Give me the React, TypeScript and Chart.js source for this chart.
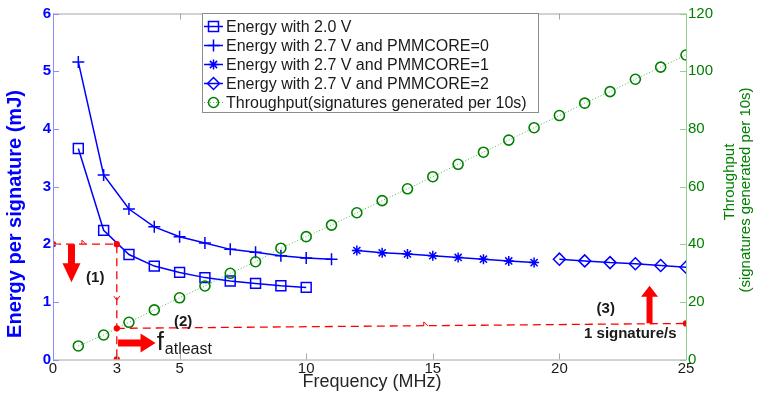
import React, { useEffect, useRef } from 'react';
import { Chart, registerables } from 'chart.js';

Chart.register(...registerables);

// ---------- data ----------
const freq20 = [1, 2, 3, 4, 5, 6, 7, 8, 9, 10];
const energy20 = [3.66, 2.24, 1.82, 1.62, 1.51, 1.42, 1.36, 1.32, 1.28, 1.25];

const freqP0 = [1, 2, 3, 4, 5, 6, 7, 8, 9, 10, 11];
const energyP0 = [5.16, 3.2, 2.61, 2.3, 2.13, 2.02, 1.91, 1.86, 1.8, 1.76, 1.74];

const freqP1 = [12, 13, 14, 15, 16, 17, 18, 19];
const energyP1 = [1.89, 1.85, 1.83, 1.8, 1.77, 1.74, 1.71, 1.68];

const freqP2 = [20, 21, 22, 23, 24, 25];
const energyP2 = [1.74, 1.71, 1.68, 1.66, 1.63, 1.6];

const freqTp = [1, 2, 3, 4, 5, 6, 7, 8, 9, 10, 11, 12, 13, 14, 15, 16, 17, 18, 19, 20, 21, 22, 23, 24, 25];
const throughput = [4.7, 8.5, 12.9, 17.2, 21.4, 25.5, 29.9, 33.9, 38.6, 42.6, 46.6, 50.9, 55.1, 59.2, 63.4, 67.7, 71.9, 76.1, 80.4, 84.6, 88.9, 92.9, 97.2, 101.4, 105.6];

const xTickValues = [0, 2.52, 5, 10, 15, 20, 25];
const xTickLabels = ['0', '3', '5', '10', '15', '20', '25'];
const yTickValues = [0, 1, 2, 3, 4, 5, 6];
const y2TickValues = [0, 20, 40, 60, 80, 100, 120];

// annotation guide lines
const limitX = [0, 2.52, 2.52];
const limitY = [2, 2, 0];
const rateX = [2.52, 25];
const rateY = [10.8, 12.5];

const legendLabels = [
  'Energy with 2.0 V',
  'Energy with 2.7 V and PMMCORE=0',
  'Energy with 2.7 V and PMMCORE=1',
  'Energy with 2.7 V and PMMCORE=2',
  'Throughput(signatures generated per 10s)',
];

const FONT = '"Liberation Sans", Arial, Helvetica, sans-serif';
const BLUE = '#0000ff';
const GREEN = '#008000';
const RED = '#ff0000';

const zip = (xs: number[], ys: number[]) => xs.map((x, i) => ({ x, y: ys[i] }));

function drawMarker(ctx: CanvasRenderingContext2D, kind: string, x: number, y: number, color: string) {
  ctx.save();
  ctx.strokeStyle = color;
  ctx.lineWidth = 1.5;
  ctx.beginPath();
  if (kind === 'rect') {
    ctx.rect(x - 5, y - 5, 10, 10);
  } else if (kind === 'cross') {
    ctx.moveTo(x - 6, y); ctx.lineTo(x + 6, y);
    ctx.moveTo(x, y - 6); ctx.lineTo(x, y + 6);
  } else if (kind === 'star') {
    ctx.moveTo(x - 5, y); ctx.lineTo(x + 5, y);
    ctx.moveTo(x, y - 5); ctx.lineTo(x, y + 5);
    ctx.moveTo(x - 3.6, y - 3.6); ctx.lineTo(x + 3.6, y + 3.6);
    ctx.moveTo(x - 3.6, y + 3.6); ctx.lineTo(x + 3.6, y - 3.6);
  } else if (kind === 'diamond') {
    ctx.moveTo(x, y - 6); ctx.lineTo(x + 6, y); ctx.lineTo(x, y + 6); ctx.lineTo(x - 6, y); ctx.closePath();
  } else if (kind === 'circle') {
    ctx.arc(x, y, 5, 0, Math.PI * 2);
  }
  ctx.stroke();
  ctx.restore();
}

function fillArrow(ctx: CanvasRenderingContext2D, x1: number, y1: number, x2: number, y2: number,
  shaftHalf: number, headHalf: number, headLen: number) {
  const dx = x2 - x1, dy = y2 - y1;
  const L = Math.hypot(dx, dy);
  const ux = dx / L, uy = dy / L, nx = -uy, ny = ux;
  const bx = x2 - ux * headLen, by = y2 - uy * headLen;
  ctx.beginPath();
  ctx.moveTo(x1 + nx * shaftHalf, y1 + ny * shaftHalf);
  ctx.lineTo(bx + nx * shaftHalf, by + ny * shaftHalf);
  ctx.lineTo(bx + nx * headHalf, by + ny * headHalf);
  ctx.lineTo(x2, y2);
  ctx.lineTo(bx - nx * headHalf, by - ny * headHalf);
  ctx.lineTo(bx - nx * shaftHalf, by - ny * shaftHalf);
  ctx.lineTo(x1 - nx * shaftHalf, y1 - ny * shaftHalf);
  ctx.closePath();
  ctx.fill();
}

function smallHead(ctx: CanvasRenderingContext2D, x: number, y: number, dir: 'right' | 'down') {
  ctx.beginPath();
  if (dir === 'right') {
    ctx.moveTo(x - 4, y - 4); ctx.lineTo(x, y); ctx.moveTo(x - 4, y - 4); ctx.lineTo(x - 4, y);
  } else {
    ctx.moveTo(x - 3, y - 4); ctx.lineTo(x, y); ctx.lineTo(x + 3, y - 4);
  }
  ctx.stroke();
}

const decorPlugin = {
  id: 'decor',
  afterDraw(chart: any) {
    const ctx: CanvasRenderingContext2D = chart.ctx;
    const { left, right, top, bottom } = chart.chartArea;
    const xs = chart.scales.x, ys = chart.scales.y, y2s = chart.scales.y2;
    ctx.save();

    // axes frame
    ctx.lineWidth = 1;
    ctx.strokeStyle = '#a6a6a6';
    ctx.beginPath();
    ctx.moveTo(left, top + 0.5); ctx.lineTo(right, top + 0.5);
    ctx.moveTo(left, bottom + 0.5); ctx.lineTo(right, bottom + 0.5);
    ctx.stroke();
    // x ticks (inward, bottom and top)
    ctx.beginPath();
    for (const v of xTickValues) {
      if (v === 0 || v === 25) continue;
      const px = Math.round(xs.getPixelForValue(v)) + 0.5;
      ctx.moveTo(px, bottom); ctx.lineTo(px, bottom - 6);
      if (v !== xTickValues[1]) { ctx.moveTo(px, top); ctx.lineTo(px, top + 6); }
    }
    ctx.stroke();
    // left axis
    ctx.strokeStyle = '#8c8cff';
    ctx.beginPath();
    ctx.moveTo(left + 0.5, top); ctx.lineTo(left + 0.5, bottom + 1);
    for (const v of yTickValues) {
      const py = Math.round(ys.getPixelForValue(v)) + 0.5;
      ctx.moveTo(left, py); ctx.lineTo(left + 6, py);
    }
    ctx.stroke();
    // right axis
    ctx.strokeStyle = '#8fcf8f';
    ctx.beginPath();
    ctx.moveTo(right + 0.5, top); ctx.lineTo(right + 0.5, bottom + 1);
    for (const v of y2TickValues) {
      const py = Math.round(y2s.getPixelForValue(v)) + 0.5;
      ctx.moveTo(right - 6, py); ctx.lineTo(right, py);
    }
    ctx.stroke();

    // red annotation arrows and marks
    ctx.fillStyle = RED;
    ctx.strokeStyle = RED;
    ctx.lineWidth = 1;
    fillArrow(ctx, xs.getPixelForValue(0.73), ys.getPixelForValue(2.0), xs.getPixelForValue(0.73), ys.getPixelForValue(1.34), 3.5, 9, 19);
    fillArrow(ctx, xs.getPixelForValue(2.57), ys.getPixelForValue(0.285), xs.getPixelForValue(4.05), ys.getPixelForValue(0.285), 3.5, 9.5, 15);
    fillArrow(ctx, xs.getPixelForValue(23.56), y2s.getPixelForValue(12.6), xs.getPixelForValue(23.56), y2s.getPixelForValue(25.6), 3, 8.5, 11);
    smallHead(ctx, xs.getPixelForValue(1.3), ys.getPixelForValue(2.0), 'right');
    smallHead(ctx, xs.getPixelForValue(2.52), ys.getPixelForValue(1.03), 'down');
    smallHead(ctx, xs.getPixelForValue(14.8), y2s.getPixelForValue(11.65), 'right');

    ctx.fillStyle = '#1a1a1a';
    ctx.textAlign = 'center';
    ctx.textBaseline = 'middle';
    ctx.font = `bold 15px ${FONT}`;
    ctx.fillText('(1)', xs.getPixelForValue(1.67), ys.getPixelForValue(1.42));
    ctx.fillText('(2)', xs.getPixelForValue(5.14), ys.getPixelForValue(0.65));
    ctx.fillText('(3)', xs.getPixelForValue(21.83), y2s.getPixelForValue(17.5));
    ctx.fillText('1 signature/s', xs.getPixelForValue(22.8), y2s.getPixelForValue(9.0));
    ctx.textAlign = 'left';
    ctx.textBaseline = 'alphabetic';
    ctx.font = `26px ${FONT}`;
    const fx = xs.getPixelForValue(4.1);
    const fy = ys.getPixelForValue(0.16);
    ctx.fillText('f', fx, fy);
    ctx.font = `16px ${FONT}`;
    ctx.fillText('atleast', fx + 8, fy + 4);

    // legend box
    const lx = 202.5, ly = 13.5, lw = 336, lh = 99;
    ctx.fillStyle = '#ffffff';
    ctx.fillRect(lx, ly, lw, lh);
    ctx.strokeStyle = '#8c8c8c';
    ctx.lineWidth = 1;
    ctx.strokeRect(lx, ly, lw, lh);
    const kinds = ['rect', 'cross', 'star', 'diamond', 'circle'];
    ctx.font = `16px ${FONT}`;
    ctx.textBaseline = 'middle';
    ctx.textAlign = 'left';
    for (let i = 0; i < 5; i++) {
      const yy = 26.5 + i * 19;
      const col = i === 4 ? GREEN : BLUE;
      ctx.save();
      ctx.strokeStyle = i === 4 ? '#4fb84f' : BLUE;
      ctx.lineWidth = i === 4 ? 1 : 1.5;
      if (i === 4) ctx.setLineDash([1, 2]);
      ctx.beginPath();
      ctx.moveTo(204, yy); ctx.lineTo(223, yy);
      ctx.stroke();
      ctx.restore();
      drawMarker(ctx, kinds[i], 213.5, yy, col);
      ctx.fillStyle = '#1a1a1a';
      ctx.fillText(legendLabels[i], 226, yy + 1);
    }

    // axis titles
    ctx.fillStyle = '#262626';
    ctx.textAlign = 'center';
    ctx.textBaseline = 'middle';
    ctx.font = `18px ${FONT}`;
    ctx.fillText('Frequency (MHz)', 372, 382);

    ctx.save();
    ctx.translate(15, 214);
    ctx.rotate(-Math.PI / 2);
    ctx.fillStyle = BLUE;
    ctx.font = `bold 20px ${FONT}`;
    ctx.fillText('Energy per signature (mJ)', 0, 0);
    ctx.restore();

    ctx.save();
    ctx.translate(730, 182);
    ctx.rotate(-Math.PI / 2);
    ctx.fillStyle = GREEN;
    ctx.font = `15px ${FONT}`;
    ctx.fillText('Throughput', 0, 0);
    ctx.restore();
    ctx.save();
    ctx.translate(746, 190);
    ctx.rotate(-Math.PI / 2);
    ctx.fillStyle = GREEN;
    ctx.font = `15px ${FONT}`;
    ctx.fillText('(signatures generated per 10s)', 0, 0);
    ctx.restore();

    ctx.restore();
  },
};

export default function App() {
  const ref = useRef<HTMLCanvasElement>(null);
  useEffect(() => {
    document.body.style.margin = '0';
    const blueSet = (label: string, xs: number[], ys: number[], style: any, r: number) => ({
      label, data: zip(xs, ys), yAxisID: 'y', borderColor: BLUE, backgroundColor: 'transparent',
      borderWidth: 1.5, pointStyle: style, pointRadius: r, pointBorderWidth: 1.5,
      pointBorderColor: BLUE, pointBackgroundColor: 'transparent', fill: false, tension: 0,
    });
    const chart = new Chart(ref.current as HTMLCanvasElement, {
      type: 'line',
      data: {
        datasets: [
          {
            label: 'limit', data: zip(limitX, limitY), yAxisID: 'y', borderColor: RED, borderWidth: 1.3,
            borderDash: [8, 5], pointRadius: 2.5, pointBackgroundColor: RED, pointBorderColor: RED, fill: false,
          } as any,
          {
            label: 'rate', data: zip(rateX, rateY), yAxisID: 'y2', borderColor: RED, borderWidth: 1.3,
            borderDash: [8, 5], pointRadius: 2.5, pointBackgroundColor: RED, pointBorderColor: RED, fill: false,
          },
          {
            label: legendLabels[4], data: zip(freqTp, throughput), yAxisID: 'y2', borderColor: '#4fb84f',
            borderWidth: 1, borderDash: [1, 2], pointStyle: 'circle', pointRadius: 5, pointBorderWidth: 1.6,
            pointBorderColor: GREEN, pointBackgroundColor: 'transparent', fill: false,
          },
          blueSet(legendLabels[0], freq20, energy20, 'rect', 7),
          blueSet(legendLabels[1], freqP0, energyP0, 'cross', 6),
          blueSet(legendLabels[2], freqP1, energyP1, 'star', 5),
          blueSet(legendLabels[3], freqP2, energyP2, 'rectRot', 6),
        ],
      },
      options: {
        responsive: false,
        animation: false,
        devicePixelRatio: 1,
        layout: { padding: { top: 13.5, left: 0, right: 0, bottom: 0 } },
        plugins: { legend: { display: false }, tooltip: { enabled: false }, title: { display: false } },
        scales: {
          x: {
            type: 'linear', min: 0, max: 25, position: 'bottom',
            afterBuildTicks: (s: any) => { s.ticks = xTickValues.map((v) => ({ value: v })); },
            afterFit: (s: any) => { s.height = 34.5; },
            ticks: {
              callback: (_v: any, i: number) => xTickLabels[i],
              font: { family: FONT, size: 15 }, color: '#1a1a1a', padding: 0, maxRotation: 0, autoSkip: false,
            },
            grid: { display: false, drawTicks: false },
            border: { display: false },
          },
          y: {
            type: 'linear', min: 0, max: 6, position: 'left',
            afterBuildTicks: (s: any) => { s.ticks = yTickValues.map((v) => ({ value: v })); },
            afterFit: (s: any) => { s.width = 53; },
            ticks: { font: { family: FONT, size: 15, weight: 'bold' }, color: BLUE, padding: 2 },
            grid: { display: false, drawTicks: false },
            border: { display: false },
          },
          y2: {
            type: 'linear', min: 0, max: 120, position: 'right',
            afterBuildTicks: (s: any) => { s.ticks = y2TickValues.map((v) => ({ value: v })); },
            afterFit: (s: any) => { s.width = 72; },
            ticks: { font: { family: FONT, size: 15 }, color: GREEN, padding: 2 },
            grid: { display: false, drawTicks: false },
            border: { display: false },
          },
        },
      } as any,
      plugins: [decorPlugin],
    });
    return () => chart.destroy();
  }, []);
  return (
    <div style={{ position: 'fixed', left: 0, top: 0, width: 758, height: 394, background: '#fff' }}>
      <canvas ref={ref} width={758} height={394} style={{ width: 758, height: 394, display: 'block' }} />
    </div>
  );
}
